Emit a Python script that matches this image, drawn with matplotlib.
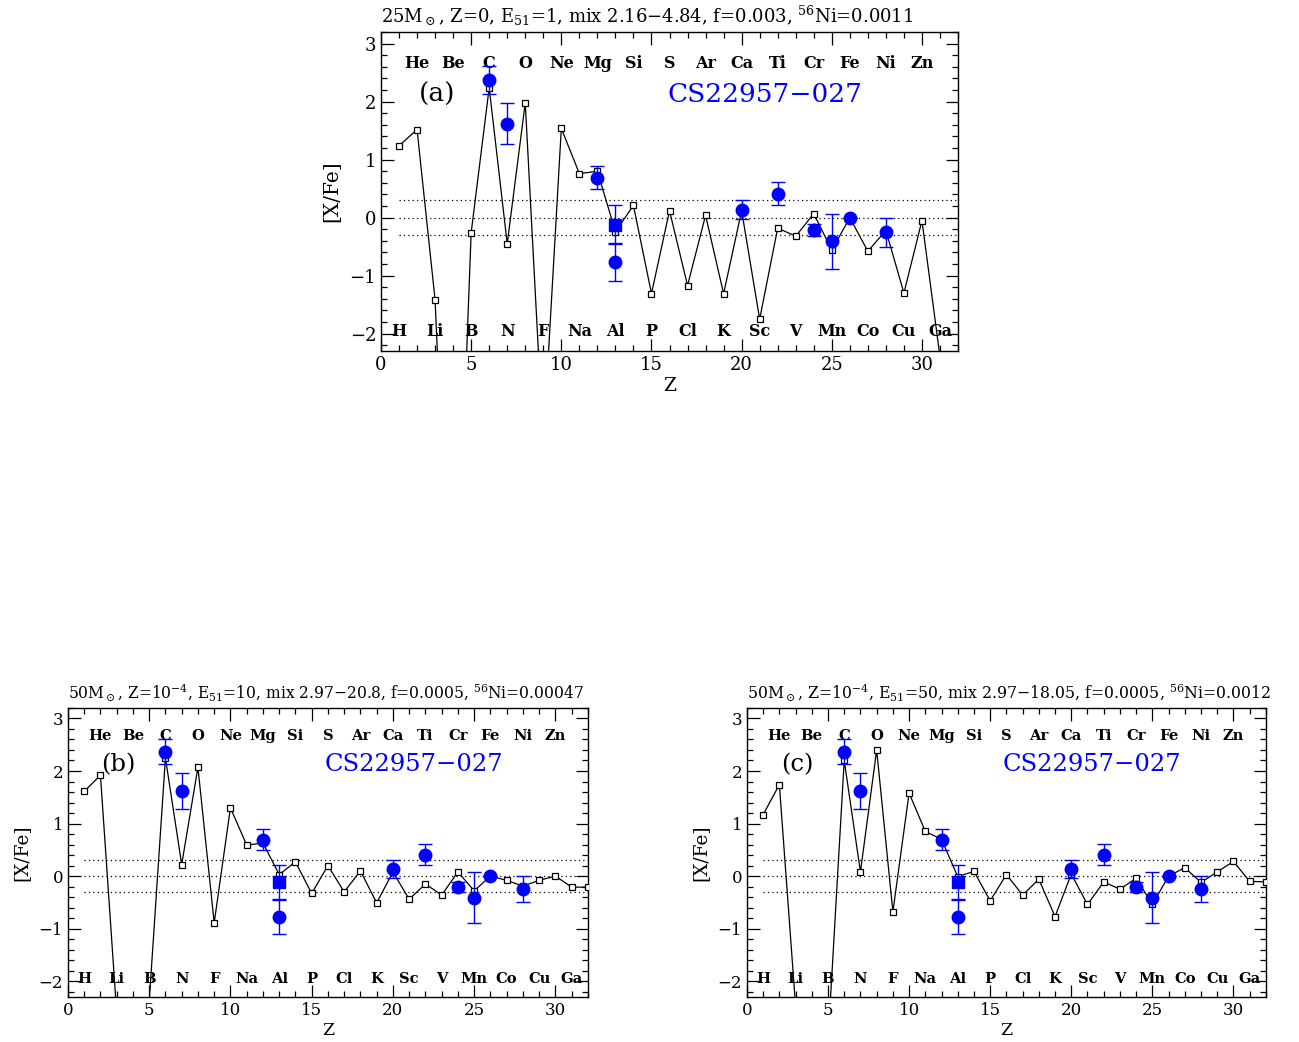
import matplotlib

matplotlib.use("Agg")
import matplotlib.pyplot as plt
import numpy as np
from matplotlib.ticker import MultipleLocator

plt.rcParams["font.family"] = ["DejaVu Serif"]
plt.rcParams["mathtext.fontset"] = "dejavuserif"

# element symbols for Z = 1..31
elements = ["H", "He", "Li", "Be", "B", "C", "N", "O", "F", "Ne", "Na", "Mg", "Al",
            "Si", "P", "S", "Cl", "Ar", "K", "Ca", "Sc", "Ti", "V", "Cr", "Mn", "Fe",
            "Co", "Ni", "Cu", "Zn", "Ga"]

# observed abundances of CS22957-027 (circles)
obs_z = [6, 7, 12, 13, 20, 22, 24, 25, 26, 28]
obs_val = [2.37, 1.62, 0.69, -0.77, 0.14, 0.41, -0.21, -0.41, 0.0, -0.25]
obs_err = [0.24, 0.35, 0.20, 0.33, 0.17, 0.20, 0.10, 0.48, 0.0, 0.25]
# Al with the alternative (square) value
obs_sq_z = [13]
obs_sq_val = [-0.12]
obs_sq_err = [0.33]

# model yields
model_a_z = list(range(1, 32))
model_a = [1.24, 1.52, -1.42, -8.5, -0.26, 2.24, -0.45, 1.98, -3.9, 1.54, 0.76, 0.80,
           -0.24, 0.21, -1.31, 0.12, -1.17, 0.04, -1.31, 0.12, -1.75, -0.18, -0.32,
           0.07, -0.56, 0.0, -0.58, -0.22, -1.30, -0.05, -2.4]

model_b_z = list(range(1, 33))
model_b = [1.61, 1.92, -2.6, -5.0, -2.39, 2.25, 0.22, 2.07, -0.89, 1.30, 0.59, 0.63,
           0.03, 0.27, -0.33, 0.20, -0.30, 0.10, -0.51, 0.08, -0.44, -0.15, -0.36,
           0.08, -0.28, 0.0, -0.08, -0.19, -0.08, 0.0, -0.21, -0.21]

model_c_z = list(range(1, 33))
model_c = [1.17, 1.74, -2.47, -5.0, -3.15, 2.2, 0.08, 2.40, -0.68, 1.58, 0.85, 0.70,
           -0.01, 0.09, -0.47, 0.03, -0.36, -0.06, -0.77, 0.04, -0.54, -0.11, -0.25,
           -0.04, -0.54, 0.0, 0.16, -0.12, 0.08, 0.28, -0.10, -0.11]

titles = [
    r"25M$_\odot$, Z=0, E$_{51}$=1, mix 2.16$-$4.84, f=0.003, $^{56}$Ni=0.0011",
    r"50M$_\odot$, Z=10$^{-4}$, E$_{51}$=10, mix 2.97$-$20.8, f=0.0005, $^{56}$Ni=0.00047",
    r"50M$_\odot$, Z=10$^{-4}$, E$_{51}$=50, mix 2.97$-$18.05, f=0.0005, $^{56}$Ni=0.0012",
]
panel_tags = ["(a)", "(b)", "(c)"]
star_name = "CS22957\u2212027"

BLUE = "#0000ff"

fig = plt.figure(figsize=(12.99, 10.42), dpi=100)
ax_a = fig.add_axes([0.2933, 0.6631, 0.4442, 0.3061])
ax_b = fig.add_axes([0.0523, 0.0432, 0.4003, 0.2774])
ax_c = fig.add_axes([0.5750, 0.0432, 0.3995, 0.2774])

panels = [
    (ax_a, model_a_z, model_a, 1.0, 13.0),
    (ax_b, model_b_z, model_b, 0.92, 11.2),
    (ax_c, model_c_z, model_c, 0.92, 11.3),
]

for i, (ax, mz, mv, scale, tsize) in enumerate(panels):
    ax.set_xlim(0, 32)
    ax.set_ylim(-2.3, 3.2)

    for yy in (0.3, 0.0, -0.3):
        ax.plot([1, 32], [yy, yy], color="black", linestyle=(0, (1, 2.5)), linewidth=0.9)

    ax.plot(mz, mv, color="black", linewidth=0.9, marker="s", markersize=3.8,
            markerfacecolor="white", markeredgecolor="black", markeredgewidth=0.9,
            zorder=3)

    ax.errorbar(obs_z, obs_val, yerr=obs_err, fmt="o", color=BLUE, markersize=9,
                elinewidth=1.0, capsize=5, capthick=1.0, zorder=4)
    ax.errorbar(obs_sq_z, obs_sq_val, yerr=obs_sq_err, fmt="s", color=BLUE,
                markersize=8, elinewidth=1.0, capsize=5, capthick=1.0, zorder=4)

    for z, name in enumerate(elements, start=1):
        y = 2.66 if z % 2 == 0 else -1.96
        ax.text(z, y, name, ha="center", va="center", fontsize=11.5 * scale,
                fontweight="bold")

    ax.text(3.1, 2.12, panel_tags[i], ha="center", va="center", fontsize=19 * scale)
    ax.text(21.3, 2.12, star_name, ha="center", va="center", fontsize=19 * scale,
            color=BLUE)

    ax.xaxis.set_major_locator(MultipleLocator(5))
    ax.xaxis.set_minor_locator(MultipleLocator(1))
    ax.yaxis.set_major_locator(MultipleLocator(1))
    ax.yaxis.set_minor_locator(MultipleLocator(0.2))
    ax.tick_params(which="both", direction="in", top=True, right=True,
                   labelsize=13 * scale, width=0.9)
    ax.tick_params(which="major", length=9)
    ax.tick_params(which="minor", length=4.5)
    for spine in ax.spines.values():
        spine.set_linewidth(1.0)

    ax.set_xlabel("Z", fontsize=13.5 * scale, labelpad=2)
    ax.set_ylabel("[X/Fe]", fontsize=14.5 * scale, labelpad=6)
    ax.set_title(titles[i], loc="left", fontsize=tsize, pad=7)

fig.savefig("out.png", dpi=100)
